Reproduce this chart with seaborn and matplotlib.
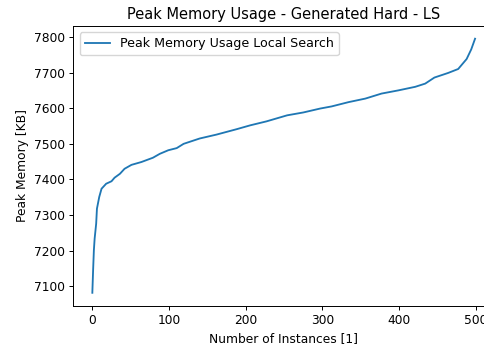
import matplotlib
matplotlib.use("Agg")
import matplotlib.pyplot as plt
import seaborn as sns
import pandas as pd

# Data (sorted peak memory per instance)
instances = [0, 1, 2, 3, 5, 6, 9, 12, 18, 25, 29, 36, 42, 51, 64, 79, 88, 99,
             110, 119, 140, 162, 188, 206, 227, 254, 275, 297, 312, 334, 356,
             377, 399, 421, 434, 446, 464, 477, 488, 494, 499]
peak_memory = [7082, 7145, 7201, 7234, 7276, 7318, 7351, 7374, 7388, 7395,
               7405, 7416, 7430, 7441, 7449, 7461, 7472, 7482, 7488, 7500,
               7515, 7526, 7541, 7552, 7563, 7580, 7588, 7599, 7605, 7617,
               7627, 7641, 7650, 7660, 7669, 7686, 7699, 7710, 7738, 7765,
               7795]
series_label = "Peak Memory Usage Local Search"
title = "Peak Memory Usage - Generated Hard - LS"
xlabel = "Number of Instances [1]"
ylabel = "Peak Memory [KB]"

df = pd.DataFrame({"instance": instances, "memory": peak_memory})

s = 0.88
plt.rcParams.update({
    "xtick.major.size": 3.5 * s, "ytick.major.size": 3.5 * s,
    "xtick.major.width": 0.8 * s, "ytick.major.width": 0.8 * s,
    "axes.linewidth": 0.8 * s,
    "xtick.major.pad": 3.5 * s, "ytick.major.pad": 3.5 * s,
})

W, H = 485, 347
fig = plt.figure(figsize=(W / 100, H / 100), dpi=100)
ax = fig.add_axes([73.2 / W, 1 - 305.5 / H, 421 / W, 279.5 / H])

sns.lineplot(data=df, x="instance", y="memory", ax=ax, color="#1f77b4",
             label=series_label, linewidth=1.5 * s)

ax.set_title(title, fontsize=12 * s, pad=6 * s)
ax.set_xlabel(xlabel, fontsize=10 * s, labelpad=4 * s)
ax.set_ylabel(ylabel, fontsize=10 * s, labelpad=4 * s)
ax.set_xticks([0, 100, 200, 300, 400, 500])
ax.set_yticks([7100, 7200, 7300, 7400, 7500, 7600, 7700, 7800])
ax.tick_params(labelsize=10 * s)
ax.spines["right"].set_visible(False)
ax.legend(loc="upper left", fontsize=9.1)

fig.savefig("out.png", dpi=100)
